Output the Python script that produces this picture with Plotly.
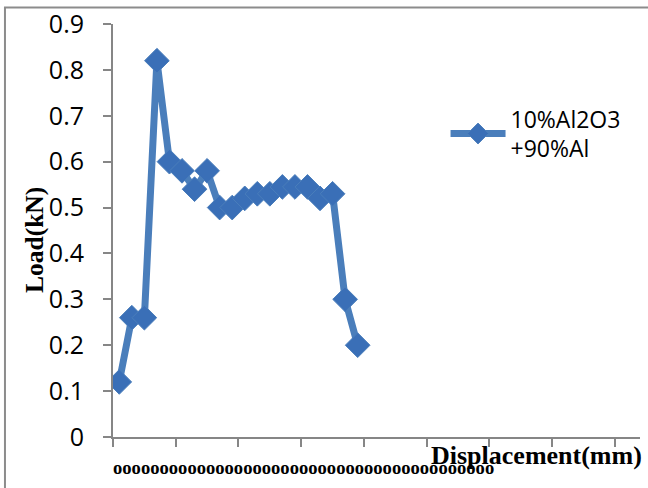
import plotly.graph_objects as go

# ---- data ----
point_index = list(range(1, 21))
load_kn = [0.12, 0.26, 0.26, 0.82, 0.60, 0.58, 0.54, 0.58, 0.50, 0.50,
           0.52, 0.53, 0.53, 0.545, 0.545, 0.545, 0.52, 0.53, 0.30, 0.20]
n_categories = 42
y_tick_values = [0, 0.1, 0.2, 0.3, 0.4, 0.5, 0.6, 0.7, 0.8, 0.9]
y_tick_labels = ["0", "0.1", "0.2", "0.3", "0.4", "0.5", "0.6", "0.7", "0.8", "0.9"]
series_name = "10%Al2O3<br>+90%Al"
x_label_glyph = "o"
n_x_labels = 41
x_title = "Displacement(mm)"
y_title = "Load(kN)"

LINE_BLUE = "#4a7ebb"
MARK_BLUE = "#3a6fb7"
AXIS_GRAY = "#868686"

fig = go.Figure()
fig.add_trace(go.Scatter(
    x=point_index, y=load_kn, mode="lines+markers", name=series_name,
    line=dict(color=LINE_BLUE, width=7),
    marker=dict(symbol="diamond", size=19, color=MARK_BLUE,
                line=dict(color=LINE_BLUE, width=1)),
))

fig.update_layout(
    width=648, height=488,
    margin=dict(l=113, r=8, t=24, b=51, autoexpand=False),
    paper_bgcolor="white", plot_bgcolor="white",
    font=dict(family="Open Sans", color="black"),
    showlegend=True,
    legend=dict(x=0.631, y=0.823, xanchor="left", yanchor="top",
                font=dict(family="Open Sans", size=23, color="black"),
                itemwidth=55, bgcolor="rgba(0,0,0,0)", tracegroupgap=0),
    xaxis=dict(range=[0.5, n_categories + 0.5], tick0=0.5, dtick=5,
               showticklabels=False, ticks="outside", ticklen=8, tickwidth=2,
               tickcolor=AXIS_GRAY, showline=True, linecolor=AXIS_GRAY,
               linewidth=2, showgrid=False, zeroline=False, automargin=False),
    yaxis=dict(range=[0, 0.9], tickvals=y_tick_values, ticktext=y_tick_labels,
               ticks="outside", ticklen=8, tickwidth=2, tickcolor=AXIS_GRAY,
               showline=True, linecolor=AXIS_GRAY, linewidth=2,
               showgrid=False, zeroline=False, ticklabelstandoff=14,
               automargin=False,
               tickfont=dict(family="Open Sans", size=25, color="black")),
)

# x tick label glyph row
fig.add_annotation(xref="paper", yref="paper", x=-0.004, y=-0.075,
                   xanchor="left", yanchor="middle", showarrow=False,
                   text="<b>" + x_label_glyph * n_x_labels + "</b>",
                   font=dict(family="Liberation Serif", size=18.6, color="black"))
# axis titles
fig.add_annotation(xref="paper", yref="paper", x=1.008, y=-0.006,
                   xanchor="right", yanchor="top", showarrow=False,
                   text="<b>" + x_title + "</b>",
                   font=dict(family="Liberation Serif", size=26, color="black"))
fig.add_annotation(xref="paper", yref="paper", x=-0.148, y=0.477,
                   xanchor="center", yanchor="middle", showarrow=False,
                   textangle=-90, text="<b>" + y_title + "</b>",
                   font=dict(family="Liberation Serif", size=25.5, color="black"))
# outer chart border (left and top edges visible)
fig.add_shape(type="rect", xref="paper", yref="paper",
              x0=-0.205, x1=1.03, y0=-0.14, y1=1.04,
              line=dict(color="#8c8c8c", width=2), fillcolor="rgba(0,0,0,0)",
              layer="below")

fig.write_html("out.html", config={"displayModeBar": False},
               post_script="document.body.style.margin='0px';document.body.style.overflow='hidden';")
